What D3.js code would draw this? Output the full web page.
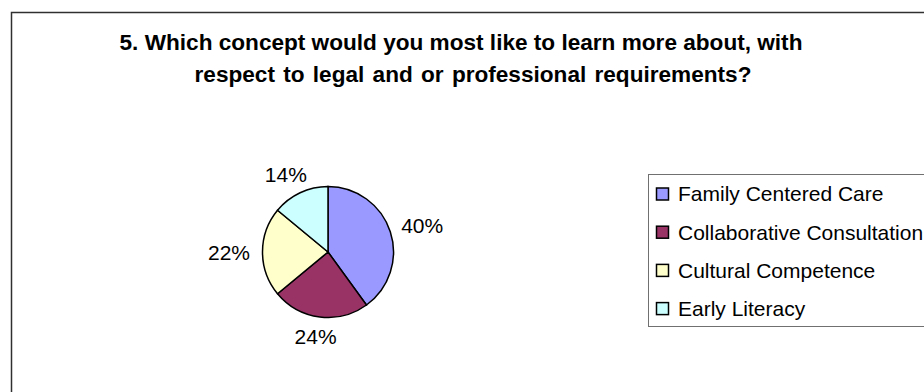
<!DOCTYPE html>
<html>
<head>
<meta charset="utf-8">
<script src="https://cdn.jsdelivr.net/npm/d3@7"></script>
<style>
  body { margin: 0; background: #fff; }
  svg text { font-family: Arial, "Liberation Sans", sans-serif; fill: #000; }
</style>
</head>
<body>
<div class="pie-chart-container"></div>
<script>
// chart data
const titleLines = [
    '5. Which concept would you most like to learn more about, with',
    'respect to legal and or professional requirements?'
];
const categories = ['Family Centered Care', 'Collaborative Consultation', 'Cultural Competence', 'Early Literacy'];
const shares = [40, 24, 22, 14];
const colors = ['#9999ff', '#993366', '#ffffcc', '#ccffff'];

const width = 924;
const height = 392;

const svg = d3.select('.pie-chart-container')
    .append('svg')
    .attr('width', width)
    .attr('height', height);

// outer chart frame (runs off the right and bottom)
svg.append('rect')
    .attr('x', 11.5)
    .attr('y', 12.5)
    .attr('width', 1000)
    .attr('height', 1000)
    .style('fill', 'none')
    .style('stroke', '#303030')
    .style('stroke-width', 1.5);

// title - second line sits a little right of centre in the original
const title = svg.append('text')
    .attr('text-anchor', 'middle')
    .style('font-size', '22.6px')
    .style('font-weight', 'bold');

title.selectAll('tspan')
    .data(titleLines)
    .enter()
    .append('tspan')
    .attr('x', (d, i) => i === 0 ? 461 : 473)
    .attr('y', (d, i) => 50 + i * 32)
    .style('word-spacing', (d, i) => i === 0 ? '0px' : '2px')
    .text(d => d);

// pie
const data = categories.map((c, i) => ({ name: c, value: shares[i] }));
const radius = 65.5;
const cx = 328, cy = 252;

const pie = d3.pie().value(d => d.value).sort(null);
const arc = d3.arc().innerRadius(0).outerRadius(radius);
const color = d3.scaleOrdinal(categories, colors);

const g = svg.append('g').attr('transform', `translate(${cx},${cy})`);

g.selectAll('path')
    .data(pie(data))
    .enter()
    .append('path')
    .attr('d', arc)
    .style('fill', d => color(d.data.name))
    .style('stroke', '#000')
    .style('stroke-width', 1.5);

// percent labels, pushed just outside the edge
const labelFont = 21;
g.selectAll('.pct')
    .data(pie(data))
    .enter()
    .append('text')
    .attr('class', 'pct')
    .attr('text-anchor', 'middle')
    .attr('dominant-baseline', 'central')
    .style('font-size', labelFont + 'px')
    .each(function (d) {
        const a = (d.startAngle + d.endAngle) / 2;
        const r = radius + 12;
        const w = 43, h = 16;
        const x = Math.sin(a) * r + Math.sin(a) * w / 2;
        const y = -Math.cos(a) * r - Math.cos(a) * h / 2;
        d3.select(this).attr('x', x).attr('y', y);
    })
    .text(d => d.data.value + '%');

// legend
const legendX = 648, legendY = 174;
svg.append('rect')
    .attr('x', legendX + 0.5)
    .attr('y', legendY + 0.5)
    .attr('width', 400)
    .attr('height', 152)
    .style('fill', '#fff')
    .style('stroke', '#707070')
    .style('stroke-width', 1);

const rowY = d3.scalePoint()
    .domain(categories)
    .range([194, 308.6]);

const items = svg.selectAll('.legend-item')
    .data(categories)
    .enter()
    .append('g')
    .attr('class', 'legend-item')
    .attr('transform', d => `translate(${legendX}, ${rowY(d)})`);

items.append('rect')
    .attr('x', 8.5)
    .attr('y', -6)
    .attr('width', 12)
    .attr('height', 12)
    .style('fill', d => color(d))
    .style('stroke', '#000')
    .style('stroke-width', 1.5);

items.append('text')
    .attr('x', 30)
    .attr('dy', '0.35em')
    .style('font-size', '21px')
    .text(d => d);
</script>
</body>
</html>
